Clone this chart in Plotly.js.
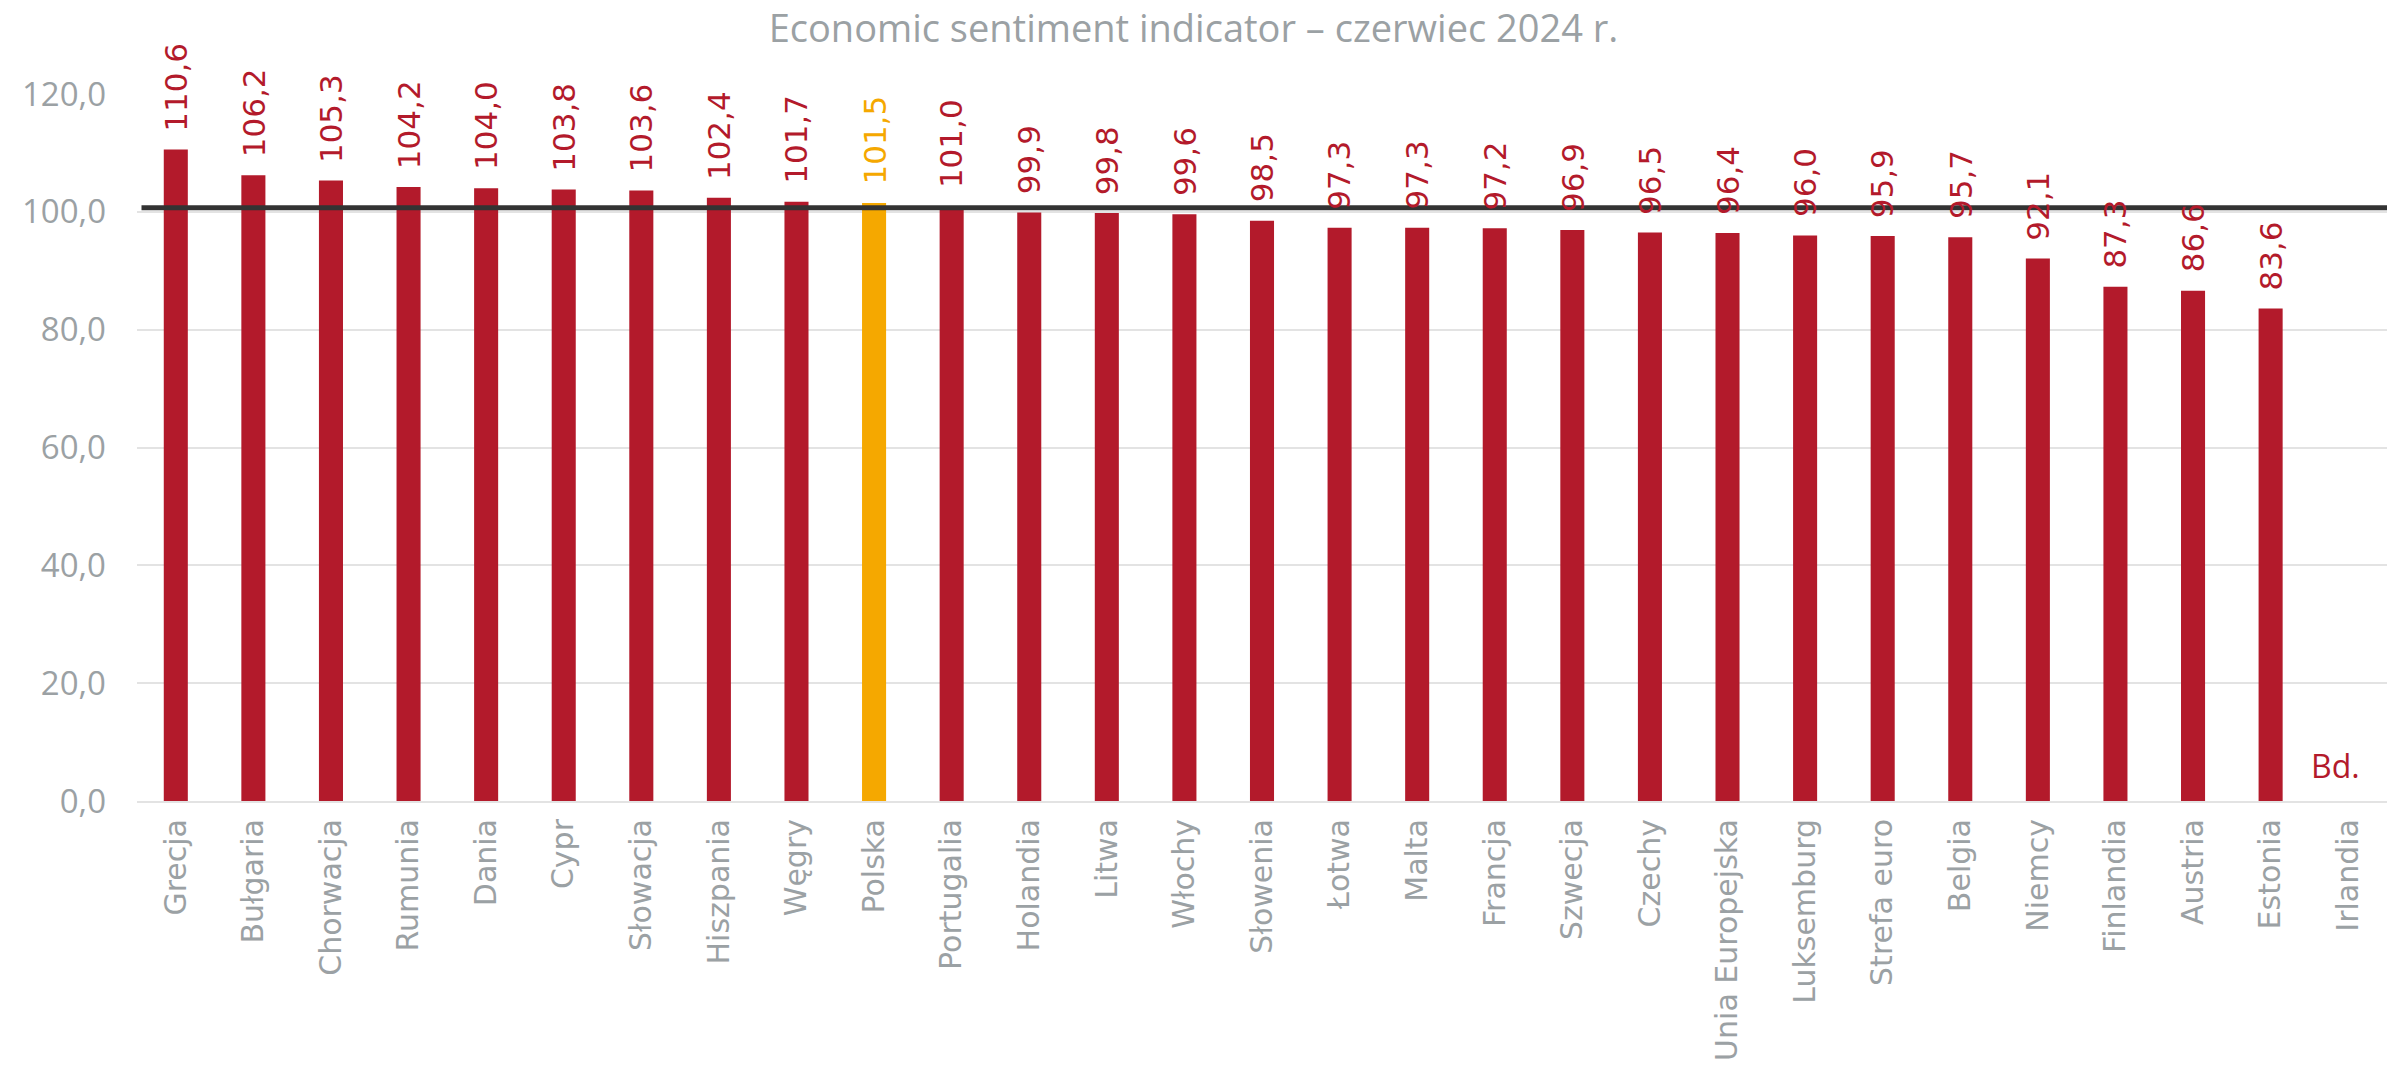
<!DOCTYPE html>
<html>
<head>
<meta charset="utf-8">
<script src="https://cdn.plot.ly/plotly-3.0.1.min.js"></script>
<style>html,body{margin:0;padding:0;background:#fff;}#chart{width:2387px;height:1069px;}</style>
</head>
<body>
<div id="chart"></div>
<script>
const categories = ["Grecja","Bułgaria","Chorwacja","Rumunia","Dania","Cypr","Słowacja","Hiszpania","Węgry","Polska","Portugalia","Holandia","Litwa","Włochy","Słowenia","Łotwa","Malta","Francja","Szwecja","Czechy","Unia Europejska","Luksemburg","Strefa euro","Belgia","Niemcy","Finlandia","Austria","Estonia","Irlandia"];
const values = [110.6,106.2,105.3,104.2,104.0,103.8,103.6,102.4,101.7,101.5,101.0,99.9,99.8,99.6,98.5,97.3,97.3,97.2,96.9,96.5,96.4,96.0,95.9,95.7,92.1,87.3,86.6,83.6,null];
const highlight = "Polska";
const missingCategory = "Irlandia";
const missingLabel = "Bd.";
const referenceLevel = 100.7;
const yTickValues = [0,20,40,60,80,100,120];
const titleText = "Economic sentiment indicator – czerwiec 2024 r.";

const RED = "#B31A2B", ORANGE = "#F5A800", GRAY = "#9BA1A4";
const colors = categories.map(c => c === highlight ? ORANGE : RED);
const fmt = v => v.toFixed(1).replace(".", ",");

const trace = {
  type: "bar",
  x: categories,
  y: values,
  marker: {color: colors},
  width: 0.31,
  hoverinfo: "skip"
};

const labelAnnotations = categories.map((c, i) => values[i] === null ? null : ({
  x: c, y: values[i], xref: "x", yref: "y",
  text: fmt(values[i]), textangle: -90, showarrow: false,
  xanchor: "center", yanchor: "bottom", yshift: 16,
  font: {family: "DejaVu Sans", size: 31, color: colors[i]}
})).filter(a => a);

const layout = {
  width: 2387, height: 1069,
  margin: {l: 137, r: 0, t: 94, b: 268},
  paper_bgcolor: "#fff", plot_bgcolor: "#fff",
  showlegend: false,
  title: {text: titleText, x: 0.5, xanchor: "center", y: 0.973, yanchor: "middle",
          font: {family: "Open Sans", size: 38, color: GRAY}},
  xaxis: {
    type: "category", tickangle: -90, ticks: "", ticklen: 0,
    tickfont: {family: "DejaVu Sans", size: 30, color: GRAY},
    showgrid: false, showline: true, linecolor: "#E3E3E3", linewidth: 2,
    ticklabelstandoff: 4, range: [-0.5, categories.length - 0.5]
  },
  yaxis: {
    range: [0, 120], tickvals: yTickValues,
    ticktext: yTickValues.map(fmt),
    tickfont: {family: "Open Sans", size: 33, color: GRAY},
    showgrid: true, gridcolor: "#E3E3E3", gridwidth: 2, zeroline: false,
    showline: false, ticks: "", ticklabelstandoff: 30
  },
  shapes: [{type: "line", xref: "paper", x0: 0.002, x1: 1, yref: "y", y0: referenceLevel, y1: referenceLevel,
            line: {color: "#333", width: 5}}],
  annotations: labelAnnotations.concat([{x: missingCategory, y: 6, xref: "x", yref: "y", xshift: -13,
                 text: missingLabel, showarrow: false,
                 font: {family: "Open Sans", size: 32, color: RED}}])
};

Plotly.newPlot("chart", [trace], layout, {staticPlot: true, displayModeBar: false});
</script>
</body>
</html>
